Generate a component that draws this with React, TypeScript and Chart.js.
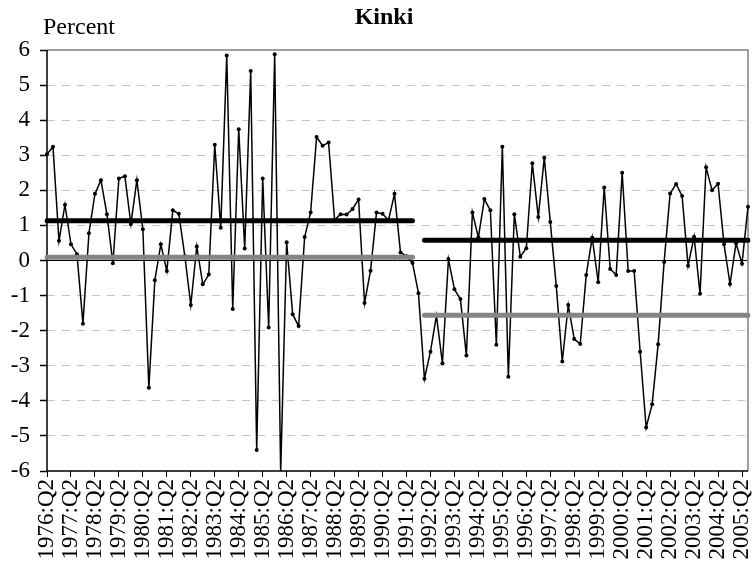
import React, { useEffect, useRef } from 'react';
import { Chart, registerables } from 'chart.js';

Chart.register(...registerables);

// Quarterly categories: 1976:Q2 ... 2005:Q3
const FIRST_YEAR = 1976;
const FIRST_QUARTER = 2;
const N_QUARTERS = 118;
const quarters: string[] = [];
for (let k = 0; k < N_QUARTERS; k++) {
  const q0 = FIRST_QUARTER - 1 + k;
  quarters.push(`${FIRST_YEAR + Math.floor(q0 / 4)}:Q${(q0 % 4) + 1}`);
}

// Growth rate (percent)
const growth: number[] = [
  3.03, 3.24, 0.56, 1.59, 0.46, 0.18, -1.80, 0.78, 1.90, 2.29,
  1.32, -0.08, 2.34, 2.40, 1.04, 2.29, 0.89, -3.63, -0.56, 0.46,
  -0.30, 1.43, 1.33, 0.13, -1.27, 0.40, -0.68, -0.40, 3.30, 0.93,
  5.84, -1.38, 3.74, 0.34, 5.40, -5.40, 2.34, -1.91, 5.88, -6.05,
  0.52, -1.53, -1.87, 0.67, 1.37, 3.52, 3.27, 3.36, 1.16, 1.32,
  1.31, 1.47, 1.74, -1.21, -0.29, 1.37, 1.33, 1.15, 1.90, 0.23,
  0.12, -0.07, -0.93, -3.37, -2.60, -1.57, -2.93, 0.04, -0.82, -1.10,
  -2.71, 1.37, 0.66, 1.75, 1.43, -2.40, 3.24, -3.31, 1.32, 0.11,
  0.35, 2.77, 1.24, 2.93, 1.10, -0.73, -2.88, -1.27, -2.24, -2.38,
  -0.41, 0.65, -0.62, 2.08, -0.24, -0.41, 2.50, -0.30, -0.30, -2.60,
  -4.76, -4.10, -2.39, -0.04, 1.91, 2.18, 1.84, -0.15, 0.68, -0.95,
  2.66, 2.00, 2.19, 0.46, -0.67, 0.49, -0.09, 1.53,
];

// Sub-period horizontal levels
const periodStart: string[] = ['1976:Q2', '1992:Q1'];
const periodEnd: string[] = ['1991:Q3', '2005:Q3'];
const blackLevels: number[] = [1.13, 0.58];
const grayLevels: number[] = [0.09, -1.56];

const Y_MIN = -6;
const Y_MAX = 6;

const FONT = "'Liberation Serif', 'Times New Roman', serif";

const framePlugin = {
  id: 'frame',
  beforeDatasetsDraw(chart: any) {
    const { ctx, chartArea: a, scales } = chart;
    const y0 = scales.y.getPixelForValue(0);
    ctx.save();
    ctx.setLineDash([]);
    ctx.strokeStyle = '#000';
    ctx.lineWidth = 1;
    ctx.beginPath();
    ctx.moveTo(a.left, y0);
    ctx.lineTo(a.right, y0);
    ctx.stroke();
    ctx.strokeStyle = '#808080';
    ctx.lineWidth = 1.5;
    ctx.beginPath();
    ctx.moveTo(a.left, a.top);
    ctx.lineTo(a.right, a.top);
    ctx.lineTo(a.right, a.bottom);
    ctx.stroke();
    ctx.strokeStyle = '#000';
    ctx.lineWidth = 1.5;
    ctx.beginPath();
    ctx.moveTo(a.left, a.top);
    ctx.lineTo(a.left, a.bottom);
    ctx.lineTo(a.right, a.bottom);
    ctx.stroke();
    ctx.restore();
  },
  afterDraw(chart: any) {
    const { ctx } = chart;
    ctx.save();
    ctx.fillStyle = '#000';
    ctx.textBaseline = 'alphabetic';
    ctx.font = `bold 24px ${FONT}`;
    ctx.textAlign = 'center';
    ctx.fillText('Kinki', 384, 24);
    ctx.font = `24px ${FONT}`;
    ctx.textAlign = 'left';
    ctx.fillText('Percent', 43, 34);
    ctx.restore();
  },
};

export default function App() {
  const ref = useRef<HTMLCanvasElement | null>(null);

  useEffect(() => {
    if (!ref.current) return;
    const seg = (levels: number[], i: number) => [
      { x: periodStart[i], y: levels[i] },
      { x: periodEnd[i], y: levels[i] },
    ];
    const levelStyle = (color: string) => ({
      borderColor: color,
      backgroundColor: color,
      borderWidth: 5,
      borderCapStyle: 'round' as const,
      pointRadius: 0,
      pointHoverRadius: 0,
      fill: false,
    });
    const chart = new Chart(ref.current, {
      type: 'line',
      data: {
        labels: quarters,
        datasets: [
          { label: 'level1', data: seg(blackLevels, 0), ...levelStyle('#000000') },
          { label: 'level2', data: seg(blackLevels, 1), ...levelStyle('#000000') },
          { label: 'g1', data: seg(grayLevels, 0), ...levelStyle('#858585') },
          { label: 'g2', data: seg(grayLevels, 1), ...levelStyle('#858585') },
          {
            label: 'Kinki',
            data: growth,
            borderColor: '#000',
            borderWidth: 1.5,
            pointRadius: 2,
            pointBackgroundColor: '#000',
            pointBorderColor: '#000',
            pointBorderWidth: 0,
            tension: 0,
            fill: false,
          },
        ],
      },
      options: {
        animation: false,
        responsive: false,
        devicePixelRatio: 1,
        layout: { padding: { top: 50, right: 5, left: 0, bottom: 0 } },
        plugins: {
          legend: { display: false },
          title: { display: false },
          tooltip: { enabled: false },
        },
        scales: {
          x: {
            type: 'category',
            offset: false,
            border: { display: false },
            grid: {
              drawOnChartArea: false,
              drawTicks: true,
              tickLength: 6,
              tickWidth: 1,
              tickColor: (c: any) => (c.index % 4 === 0 ? '#000' : 'rgba(0,0,0,0)'),
            },
            ticks: {
              autoSkip: false,
              minRotation: 90,
              maxRotation: 90,
              padding: 2,
              color: '#000',
              font: { family: FONT, size: 23 },
              callback: (_v: any, i: number) => (i % 4 === 0 ? quarters[i] : ''),
            },
            afterFit: (s: any) => {
              s.height = 96;
              s.paddingLeft = 0;
              s.paddingRight = 0;
            },
          },
          y: {
            min: Y_MIN,
            max: Y_MAX,
            border: { display: false, dash: [8, 7] },
            grid: {
              color: (c: any) => {
                const v = c.tick ? c.tick.value : 0;
                return v === 0 || v === Y_MIN || v === Y_MAX ? 'rgba(0,0,0,0)' : '#c4c4c4';
              },
              lineWidth: 1,
              drawTicks: true,
              tickLength: 7,
              tickColor: '#000',
              tickBorderDash: [],
              tickWidth: 1.5,
            },
            ticks: {
              stepSize: 1,
              padding: 10,
              color: '#000',
              font: { family: FONT, size: 23 },
              callback: (v: any) => String(v),
            },
            afterFit: (s: any) => {
              s.width = 47;
            },
          },
        },
      },
      plugins: [framePlugin],
    });
    return () => chart.destroy();
  }, []);

  return (
    <div style={{ position: 'absolute', left: 0, top: 0, width: 753, height: 567, background: '#fff' }}>
      <canvas ref={ref} width={753} height={567} />
    </div>
  );
}
